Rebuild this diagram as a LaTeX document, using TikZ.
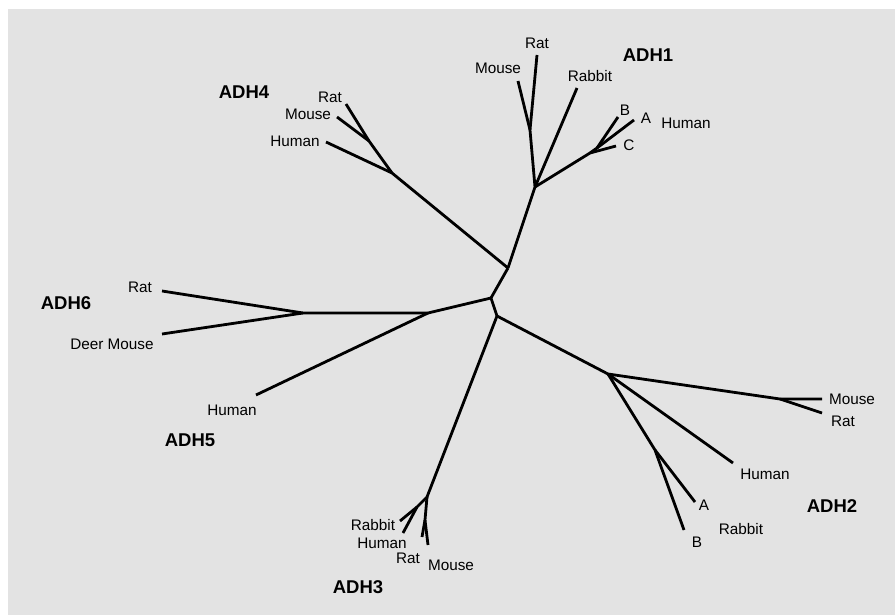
\documentclass[tikz,border=0pt]{standalone}
\usepackage{fontspec}
\setmainfont{Liberation Sans}
\begin{document}
\begin{tikzpicture}[x=1pt, y=-1pt, line width=2.8pt, line join=round,
  leaf/.style={inner sep=0pt, font=\fontsize{15.3}{18}\selectfont},
  family/.style={inner sep=0pt, font=\fontsize{18.5}{22}\selectfont\bfseries}]
\useasboundingbox (0,0) rectangle (895,615);
\fill[black!11] (8,9) rectangle (895,615);
\coordinate (c1) at (508,268);
\coordinate (c2) at (491,298);
\coordinate (c3) at (497,316);
\coordinate (j4) at (392,173);
\coordinate (j4b) at (369,141);
\coordinate (h4) at (326,142);
\coordinate (r4) at (346,104);
\coordinate (m4) at (337,117);
\coordinate (j1) at (535,187);
\coordinate (jrm1) at (530,130);
\coordinate (r1) at (537,55);
\coordinate (m1) at (518,81);
\coordinate (rb1) at (577,88);
\coordinate (jh1) at (590,153);
\coordinate (jba1) at (597,148);
\coordinate (b1) at (618,117);
\coordinate (a1) at (634,120);
\coordinate (cc1) at (616,146);
\coordinate (j65) at (428,313);
\coordinate (j6) at (303,313);
\coordinate (r6) at (162,291);
\coordinate (d6) at (162,334);
\coordinate (h5) at (256,395);
\coordinate (j2) at (608,374);
\coordinate (jmr2) at (780,399);
\coordinate (m2) at (822,399);
\coordinate (r2) at (822,413);
\coordinate (h2) at (733,463);
\coordinate (jab2) at (655,450);
\coordinate (a2) at (695,502);
\coordinate (b2) at (684,530);
\coordinate (j3) at (427,497);
\coordinate (jrh3) at (417,507);
\coordinate (rb3) at (400,521);
\coordinate (h3) at (403,533);
\coordinate (jrm3) at (425,520);
\coordinate (ra3) at (422,537);
\coordinate (mo3) at (428,545);
\draw (c1) -- (c2) -- (c3);
\draw (c1) -- (j4) -- (h4);
\draw (j4) -- (j4b) -- (r4);
\draw (j4b) -- (m4);
\draw (c1) -- (j1) -- (jrm1) -- (r1);
\draw (jrm1) -- (m1);
\draw (j1) -- (rb1);
\draw (j1) -- (jh1) -- (jba1) -- (b1);
\draw (jba1) -- (a1);
\draw (jh1) -- (cc1);
\draw (c2) -- (j65) -- (j6) -- (r6);
\draw (j6) -- (d6);
\draw (j65) -- (h5);
\draw (c3) -- (j2) -- (jmr2) -- (m2);
\draw (jmr2) -- (r2);
\draw (j2) -- (h2);
\draw (j2) -- (jab2) -- (b2);
\draw (jab2) -- (a2);
\draw (c3) -- (j3) -- (jrh3) -- (rb3);
\draw (jrh3) -- (h3);
\draw (j3) -- (jrm3) -- (ra3);
\draw (jrm3) -- (mo3);
\node[family] (adh1) at (648,55) {ADH1};
\node[leaf] (lr1) at (537,43) {Rat};
\node[leaf] (lm1) at (498,68) {Mouse};
\node[leaf] (lrb1) at (590,76) {Rabbit};
\node[leaf] (lb1) at (625,110) {B};
\node[leaf] (la1) at (646,118) {A};
\node[leaf] (lh1) at (686,123) {Human};
\node[leaf] (lc1) at (629,145) {C};
\node[family] (adh4) at (244,92) {ADH4};
\node[leaf] (lr4) at (330,97) {Rat};
\node[leaf] (lm4) at (308,114) {Mouse};
\node[leaf] (lh4) at (295,141) {Human};
\node[family] (adh6) at (66,303) {ADH6};
\node[leaf] (lr6) at (140,287) {Rat};
\node[leaf] (ld6) at (112,344) {Deer Mouse};
\node[leaf] (lh5) at (232,410) {Human};
\node[family] (adh5) at (190,440) {ADH5};
\node[leaf] (lm2) at (852,399) {Mouse};
\node[leaf] (lr2) at (843,421) {Rat};
\node[leaf] (lh2) at (765,474) {Human};
\node[leaf] (la2) at (704,505) {A};
\node[family] (adh2) at (832,506) {ADH2};
\node[leaf] (lrb2) at (741,529) {Rabbit};
\node[leaf] (lb2) at (697,542) {B};
\node[leaf] (lrb3) at (373,525) {Rabbit};
\node[leaf] (lh3) at (382,543) {Human};
\node[leaf] (lra3) at (408,558) {Rat};
\node[leaf] (lmo3) at (451,565) {Mouse};
\node[family] (adh3) at (358,587) {ADH3};
\end{tikzpicture}
\end{document}
